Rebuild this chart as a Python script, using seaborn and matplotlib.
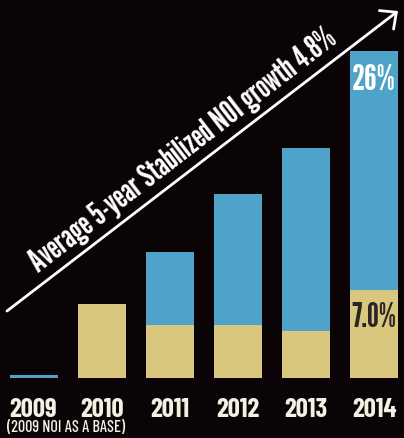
import matplotlib
matplotlib.use("Agg")
import matplotlib.pyplot as plt
from matplotlib import font_manager
import seaborn as sns
import pandas as pd

# NOI growth by year (percent)
years = ["2009", "2010", "2011", "2012", "2013", "2014"]
cumulative_growth = [0.25, 5.9, 10.0, 14.6, 18.3, 26.0]   # growth vs. 2009 base
annual_growth = [0.0, 5.9, 4.2, 4.2, 3.7, 7.0]            # year-over-year growth
base_note = "(2009 NOI AS A BASE)"
trend_text = "Average 5-year Stabilized NOI growth 4.8%"

BG = "#0a0406"
BLUE = "#4fa3c8"
TAN = "#d9c77e"
DARK = "#2a2522"
OFFWHITE = "#f4f0e3"

W, H = 404, 439

font_entries = font_manager.fontManager.ttflist
installed = {f.name for f in font_entries}
bold_installed = {f.name for f in font_entries
                  if isinstance(f.weight, int) and f.weight >= 700
                  or f.weight == "bold"}


def pick(*candidates, need_bold=False):
    pool = bold_installed if need_bold else installed
    for name in candidates:
        if name in pool:
            return [name, "DejaVu Sans"]
    return ["DejaVu Sans"]


GOTHIC = pick("League Gothic", "Oswald", "Bebas Neue", "Antonio", "Roboto Condensed")
HEAVY = pick("Barlow Condensed", "Roboto Condensed", "Fira Sans Condensed",
             "PT Sans Narrow", "Archivo Narrow", "Oswald", need_bold=True)
NARROW = pick("Barlow Condensed", "Roboto Condensed", "Oswald", "Liberation Sans Narrow")

sns.set_theme(style="dark")
plt.rcParams["font.family"] = ["DejaVu Sans"]

df = pd.DataFrame({"year": years, "cumulative": cumulative_growth, "annual": annual_growth})

fig = plt.figure(figsize=(W / 100, H / 100), dpi=100, facecolor=BG)
ax = fig.add_axes([0, 0, 1, 1])
ax.set_facecolor(BG)

bar_w = 0.705
sns.barplot(data=df, x="year", y="cumulative", color=BLUE, saturation=1,
            width=bar_w, linewidth=0, ax=ax)
sns.barplot(data=df, x="year", y="annual", color=TAN, saturation=1,
            width=bar_w, linewidth=0, ax=ax)

ax.set_xlim(-0.492, 5.44)
ax.set_ylim(-4.77, 30.13)
ax.set_axis_off()

renderer = fig.canvas.get_renderer()
to_data = ax.transData.inverted()


def px(x, y):
    """Pixel position (from top-left) -> data coordinates."""
    return to_data.transform((x, H - y))


def fit_width(t, target):
    w = t.get_window_extent(renderer).width
    t.set_fontsize(t.get_fontsize() * target / w)


# year labels under the bars, sized together
year_labels = []
for i, yr in enumerate(years):
    y_base = px(0, 417)[1]
    year_labels.append(ax.text(i, y_base, yr, ha="center", va="baseline",
                               color=OFFWHITE, fontsize=18, fontweight="bold",
                               family=HEAVY))
fit_width(year_labels[3], 43)
for t in year_labels:
    t.set_fontsize(year_labels[3].get_fontsize())

note = ax.text(*px(7, 432), base_note, ha="left", va="baseline",
               color=OFFWHITE, fontsize=10, fontweight="medium", family=NARROW)
fit_width(note, 118)

# value labels on the last bar
last = len(years) - 1
top_lbl = ax.text(last, px(0, 90)[1], f"{cumulative_growth[last]:.0f}%",
                  ha="center", va="baseline", color="white", fontsize=20,
                  fontweight="bold", family=GOTHIC)
fit_width(top_lbl, 44)
low_lbl = ax.text(last, annual_growth[last] - 36 / 12.577,
                  f"{annual_growth[last]:.1f}%", ha="center", va="baseline",
                  color=DARK, fontsize=18, fontweight="bold", family=GOTHIC)
fit_width(low_lbl, 45)

# trend arrow with caption
ax.annotate("", xy=px(398, 12), xytext=px(7, 312),
            arrowprops=dict(arrowstyle="->,head_length=0.75,head_width=0.7",
                            color="white", lw=2.0, shrinkA=0, shrinkB=0))
cap = ax.text(*px(38, 273), trend_text, ha="left", va="baseline",
              rotation_mode="anchor", color="white", fontsize=16,
              fontweight="bold", family=GOTHIC)
fit_width(cap, 377)
cap.set_rotation(37.6)

fig.savefig("out.png", dpi=100, facecolor=BG)
